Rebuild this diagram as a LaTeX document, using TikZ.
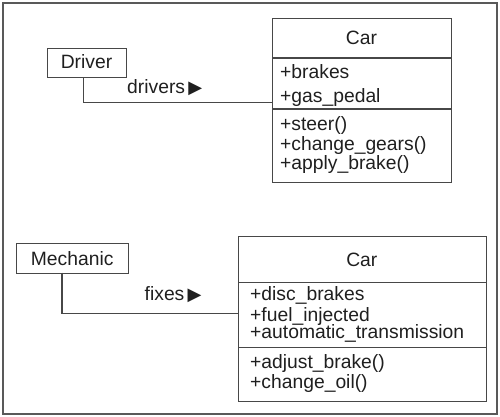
\documentclass[tikz,border=0pt]{standalone}
\usepackage{fontspec}
\setmainfont{Liberation Sans}
\newfontfamily\symfont{DejaVu Sans}
\begin{document}
\begin{tikzpicture}[x=1pt,y=-1pt,
  lc/.style={draw=black!72,line width=1.1pt},
  txt/.style={text=black!88,font=\fontsize{19.3}{20}\selectfont,inner sep=0pt},
  item/.style={txt,anchor=base west},
  actor/.style={lc,rectangle,inner sep=0pt,anchor=north west,txt},
  classbox/.style={lc,rectangle,inner sep=0pt,anchor=north west},
  conn/.style={draw=black!72,line width=1.1pt},
  tri/.style={font=\symfont\fontsize{19}{19}\selectfont}]
\useasboundingbox (0,0) rectangle (500,416);
\draw[draw=black!65,line width=1.5pt] (3,3) rectangle (497,414);

% ---- top diagram
\node[actor,minimum width=79pt,minimum height=29.5pt] (driver) at (47,47.5) {};
\node[txt,anchor=base] (drivertxt) at (86.5,68) {Driver};
\node[classbox,minimum width=178.5pt,minimum height=164.5pt] (car1) at (272.3,17.5) {};
\draw[lc] (272.3,58) -- (450.8,58);
\draw[lc] (272.3,109) -- (450.8,109);
\node[txt,anchor=base] (car1name) at (361.5,44.3) {Car};
\node[item] (a1) at (280,78) {+brakes};
\node[item] (a2) at (280,102) {+gas\_pedal};
\node[item] (m1) at (280,130) {+steer()};
\node[item] (m2) at (280,150) {+change\_gears()};
\node[item] (m3) at (280,169) {+apply\_brake()};
\coordinate (d1) at (83.3,77);
\coordinate (c1) at (272.3,102.7);
\draw[conn] (d1) |- (c1);
\node[txt,anchor=base west] (lab1) at (127,93.5) {drivers\,{\symfont\fontsize{18}{18}\selectfont ▶}};

% ---- bottom diagram
\node[actor,minimum width=112.3pt,minimum height=29.5pt] (mech) at (16,243.3) {};
\node[txt,anchor=base] (mechtxt) at (72.2,265) {Mechanic};
\node[classbox,minimum width=247.7pt,minimum height=165pt] (car2) at (238,236) {};
\draw[lc] (238,282.3) -- (485.7,282.3);
\draw[lc] (238,347.5) -- (485.7,347.5);
\node[txt,anchor=base] (car2name) at (361.8,266) {Car};
\node[item] (b1) at (250,300.7) {+disc\_brakes};
\node[item] (b2) at (250,321.5) {+fuel\_injected};
\node[item] (b3) at (250,338.5) {+automatic\_transmission};
\node[item] (n1) at (250,368.3) {+adjust\_brake()};
\node[item] (n2) at (250,388.3) {+change\_oil()};
\coordinate (d2) at (62,272.7);
\coordinate (c2) at (238,313.3);
\draw[conn] (d2) |- (c2);
\node[txt,anchor=base west] (lab2) at (144.5,300.7) {fixes\,{\symfont\fontsize{18}{18}\selectfont ▶}};
\end{tikzpicture}
\end{document}
